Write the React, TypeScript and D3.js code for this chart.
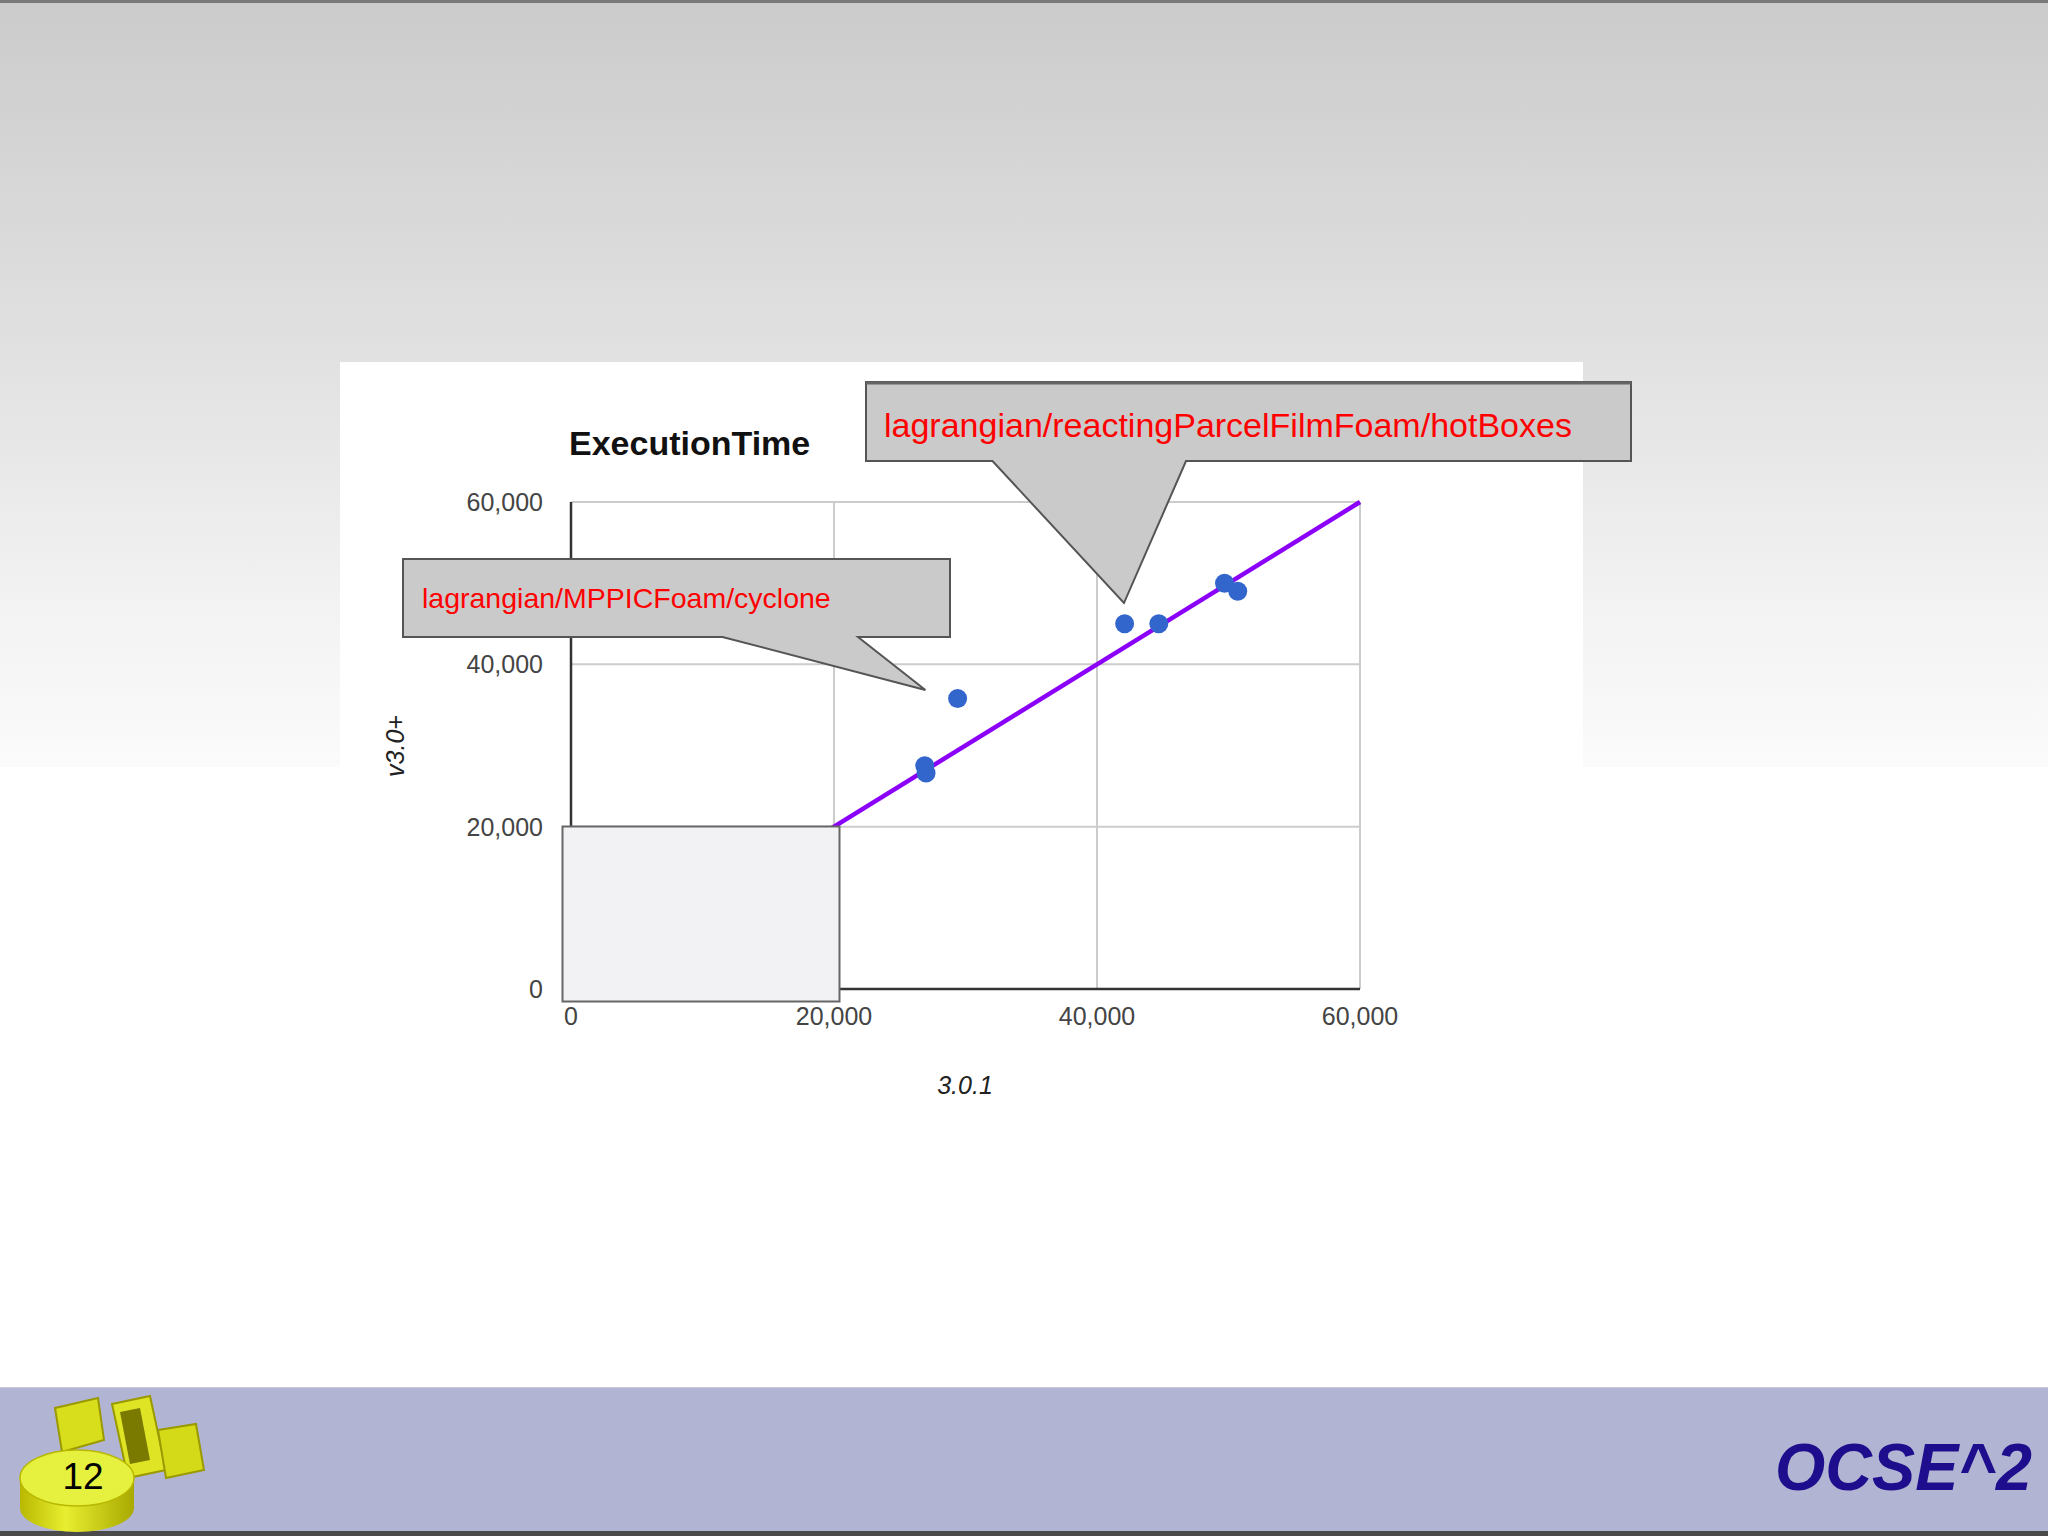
import React from "react";
import * as d3 from "d3";

// ---- data ----
const xValues = [26900, 27000, 29400, 42100, 44700, 49700, 50700];
const yValues = [27500, 26600, 35800, 45000, 45000, 50000, 49000];
const xTicks = [0, 20000, 40000, 60000];
const yTicks = [0, 20000, 40000, 60000];
const refLine = [0, 60000];
const chartTitle = "ExecutionTime";
const xAxisTitle = "3.0.1";
const yAxisTitle = "v3.0+";
const calloutLabels = ["lagrangian/MPPICFoam/cyclone", "lagrangian/reactingParcelFilmFoam/hotBoxes"];
const calloutTipX = [26950, 42050];
const calloutTipY = [36840, 47550];
const pageNumber = "12";
const brand = "OCSE^2";

const FONT = "'Liberation Sans', Arial, sans-serif";

export default function App() {
  const x = d3.scaleLinear().domain([0, 60000]).range([571, 1360]);
  const y = d3.scaleLinear().domain([0, 60000]).range([989, 502]);
  const fmt = d3.format(",");
  const pts = xValues.map((v, i) => ({ x: v, y: yValues[i] }));
  const line = d3.line<number>().x((d) => x(d)).y((d) => y(d));

  // callout geometry (box in px, tip from data)
  const tip1 = [x(calloutTipX[0]), y(calloutTipY[0])];
  const tip2 = [x(calloutTipX[1]), y(calloutTipY[1])];
  const c1 = `M403,559 H950 V637 H858 L${tip1[0]},${tip1[1]} L722.5,637 H403 Z`;
  const c2 = `M866,382 H1631 V461 H1186 L${tip2[0]},${tip2[1]} L992.5,461 H866 Z`;

  return (
    <svg
      width={2048}
      height={1536}
      viewBox="0 0 2048 1536"
      style={{ position: "absolute", left: 0, top: 0, display: "block" }}
    >
      <defs>
        <linearGradient id="bg" x1="0" y1="0" x2="0" y2="1" gradientUnits="objectBoundingBox">
          <stop offset="0" stopColor="#cbcbcb" />
          <stop offset="0.52" stopColor="#e4e4e4" />
          <stop offset="0.78" stopColor="#f2f2f2" />
          <stop offset="1" stopColor="#fbfbfb" />
        </linearGradient>
        <linearGradient id="cyl" x1="0" y1="0" x2="1" y2="0">
          <stop offset="0" stopColor="#b8b800" />
          <stop offset="0.4" stopColor="#e8ee30" />
          <stop offset="1" stopColor="#a9a900" />
        </linearGradient>
      </defs>
      {/* slide background */}
      <rect x={0} y={0} width={2048} height={1536} fill="#ffffff" />
      <rect x={0} y={0} width={2048} height={767} fill="url(#bg)" />
      <rect x={0} y={0} width={2048} height={3} fill="#7a7a7a" />

      {/* chart panel */}
      <rect x={340} y={362} width={1243} height={760} fill="#ffffff" />

      {/* gridlines */}
      {xTicks.slice(1).map((t) => (
        <line key={"gx" + t} x1={x(t)} x2={x(t)} y1={y(60000)} y2={y(0)} stroke="#cccccc" strokeWidth={2} />
      ))}
      {yTicks.slice(1).map((t) => (
        <line key={"gy" + t} x1={x(0)} x2={x(60000)} y1={y(t)} y2={y(t)} stroke="#cccccc" strokeWidth={2} />
      ))}
      {/* axes baselines */}
      <line x1={x(0)} x2={x(0)} y1={y(60000)} y2={y(0)} stroke="#333333" strokeWidth={2.5} />
      <line x1={x(0)} x2={x(60000)} y1={y(0)} y2={y(0)} stroke="#333333" strokeWidth={2.5} />

      {/* tick labels */}
      {yTicks.map((t) => (
        <text
          key={"ty" + t}
          x={543}
          y={y(t)}
          textAnchor="end"
          dominantBaseline="central"
          fontFamily={FONT}
          fontSize={25}
          fill="#444444"
        >
          {fmt(t)}
        </text>
      ))}
      {xTicks.map((t) => (
        <text
          key={"tx" + t}
          x={x(t)}
          y={1025}
          textAnchor="middle"
          fontFamily={FONT}
          fontSize={25}
          fill="#444444"
        >
          {fmt(t)}
        </text>
      ))}

      {/* title & axis titles */}
      <text x={569} y={455} fontFamily={FONT} fontWeight="bold" fontSize={34} fill="#111111">
        {chartTitle}
      </text>
      <text x={965} y={1094} textAnchor="middle" fontFamily={FONT} fontStyle="italic" fontSize={25} fill="#222222">
        {xAxisTitle}
      </text>
      <text
        transform="translate(404,746) rotate(-90)"
        textAnchor="middle"
        fontFamily={FONT}
        fontStyle="italic"
        fontSize={25}
        fill="#222222"
      >
        {yAxisTitle}
      </text>

      {/* reference line y = x */}
      <path d={line(refLine) || ""} stroke="#8b00f8" strokeWidth={4.5} fill="none" />

      {/* points */}
      {pts.map((p, i) => (
        <circle key={"p" + i} cx={x(p.x)} cy={y(p.y)} r={9.5} fill="#3366cc" />
      ))}

      {/* cover box over origin */}
      <rect x={562.5} y={826.5} width={277} height={175} fill="#f2f2f4" stroke="#666666" strokeWidth={2} />

      {/* callouts */}
      <path d={c1} fill="#cacaca" stroke="#555555" strokeWidth={2} />
      <text x={422} y={608} fontFamily={FONT} fontSize={28.5} fill="#ff0000">
        {calloutLabels[0]}
      </text>
      <path d={c2} fill="#cacaca" stroke="#555555" strokeWidth={2} />
      <line x1={866} x2={1631} y1={383} y2={383} stroke="#666666" strokeWidth={3} />
      <text x={884} y={437} fontFamily={FONT} fontSize={34} fill="#ff0000">
        {calloutLabels[1]}
      </text>

      {/* footer */}
      <rect x={0} y={1387} width={2048} height={149} fill="#b1b4d3" />
      <line x1={0} x2={2048} y1={1387.5} y2={1387.5} stroke="#c8cad8" strokeWidth={1} />
      <rect x={0} y={1531} width={2048} height={5} fill="#4a4a4a" />

      {/* logo (approximate) */}
      <g>
        <polygon points="55,1408 98,1398 104,1440 62,1452" fill="#d8de1c" stroke="#9a9a00" strokeWidth={2} />
        <polygon points="112,1404 150,1396 166,1470 128,1478" fill="#dfe525" stroke="#9a9a00" strokeWidth={2} />
        <polygon points="158,1430 196,1424 204,1470 166,1478" fill="#d4da18" stroke="#9a9a00" strokeWidth={2} />
        <polygon points="120,1412 140,1408 150,1460 130,1464" fill="#7a7a00" />
        <path d="M20,1478 L20,1508 A57,24 0 0 0 134,1508 L134,1478 Z" fill="url(#cyl)" />
        <ellipse cx={77} cy={1478} rx={57} ry={28} fill="#e6f03e" stroke="#b8b800" strokeWidth={1.5} />
        <text x={83} y={1489} textAnchor="middle" fontFamily={FONT} fontSize={37} fill="#000000">
          {pageNumber}
        </text>
      </g>

      {/* brand */}
      <text
        x={1775}
        y={1490}
        fontFamily={FONT}
        fontWeight="bold"
        fontStyle="italic"
        fontSize={66}
        fill="#1e0d8c"
        textLength={257}
        lengthAdjust="spacingAndGlyphs"
      >
        {brand}
      </text>
    </svg>
  );
}
